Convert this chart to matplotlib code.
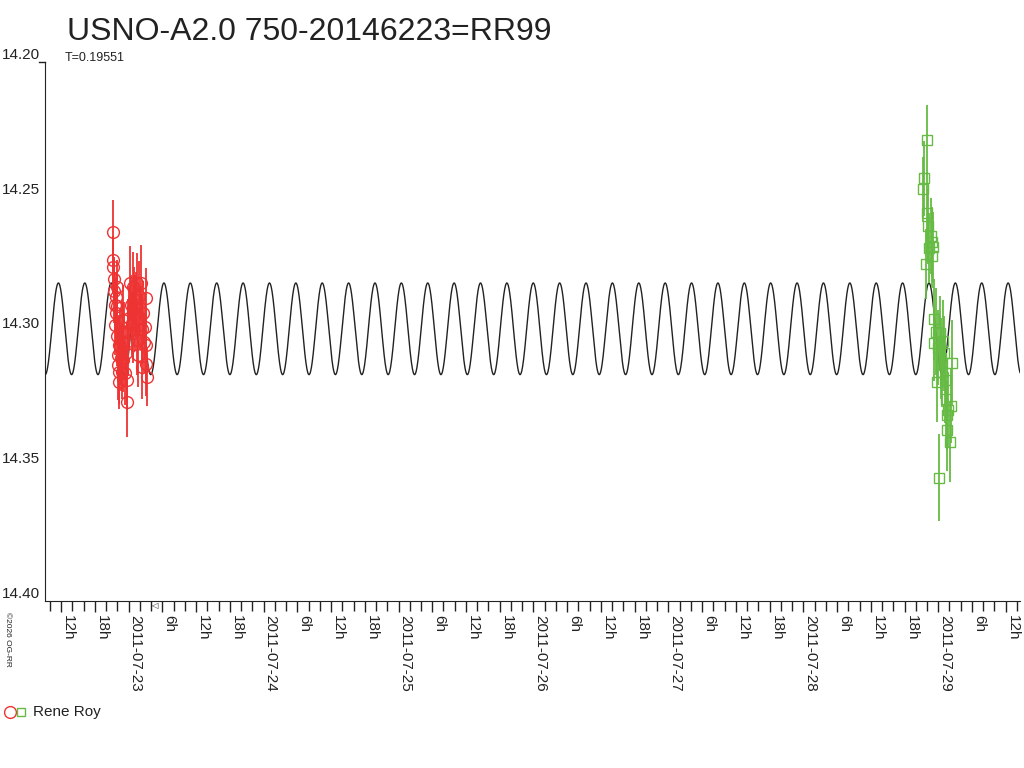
import datetime as dt
import numpy as np
import matplotlib
matplotlib.use("Agg")
import matplotlib.pyplot as plt
import matplotlib.dates as mdates
from matplotlib.lines import Line2D
from matplotlib.ticker import FuncFormatter
from matplotlib.transforms import blended_transform_factory

plt.rcParams["font.family"] = ["Liberation Sans", "DejaVu Sans"]

title = "USNO-A2.0 750-20146223=RR99"
period_label = "T=0.19551"
observer = "Rene Roy"

# days since 2011-07-23 00:00 UT, magnitude, error
red_t = [-0.119, -0.114, -0.113, -0.111, -0.107, -0.103, -0.099, -0.096, -0.093,
         -0.089, -0.086, -0.084, -0.081, -0.078, -0.074, -0.070, -0.069, -0.064,
         -0.060, -0.052, -0.048, -0.044, -0.040, -0.035, -0.027, -0.022, -0.015,
         -0.015, -0.008, -0.003, 0.004, 0.010, 0.015, 0.022, 0.030, 0.030, 0.038,
         0.047, 0.054, 0.059, 0.064, 0.071, 0.078, 0.085, 0.089, 0.096, 0.102,
         0.108, 0.113, 0.121, 0.125, 0.128, 0.131, 0.133]
red_mag = [14.2761, 14.2632, 14.2735, 14.2805, 14.2850, 14.2900, 14.2976, 14.2871,
           14.2930, 14.2834, 14.3017, 14.2905, 14.3087, 14.3124, 14.3050, 14.3149,
           14.3186, 14.3057, 14.3100, 14.3006, 14.3150, 14.3106, 14.2957, 14.3000,
           14.3154, 14.3080, 14.3260, 14.3180, 14.3000, 14.3035, 14.2950, 14.2821,
           14.2900, 14.2968, 14.2834, 14.3006, 14.2880, 14.2931, 14.2900, 14.3032,
           14.2820, 14.3087, 14.2870, 14.2950, 14.2820, 14.3131, 14.2990, 14.2931,
           14.3040, 14.2982, 14.3050, 14.2875, 14.3120, 14.3168]
red_err = [0.010, 0.012, 0.009, 0.008, 0.012, 0.010, 0.011, 0.009, 0.012, 0.010,
           0.011, 0.012, 0.010, 0.013, 0.011, 0.012, 0.010, 0.014, 0.012, 0.011,
           0.010, 0.012, 0.013, 0.011, 0.012, 0.010, 0.013, 0.011, 0.012, 0.013,
           0.012, 0.014, 0.011, 0.012, 0.013, 0.011, 0.012, 0.014, 0.012, 0.013,
           0.011, 0.012, 0.013, 0.012, 0.014, 0.012, 0.013, 0.012, 0.011, 0.012,
           0.013, 0.011, 0.012, 0.011]

green_t = [5.8845, 5.8941, 5.9067, 5.9141, 5.9200, 5.9260, 5.9334, 5.9438, 5.9512,
           5.9560, 5.9631, 5.9680, 5.9705, 5.9800, 5.9882, 5.9950, 6.0053, 6.0127,
           6.0200, 6.0250, 6.0372, 6.0420, 6.0497, 6.0560, 6.0624, 6.0680, 6.0742,
           6.0869, 6.0942, 6.0994]
green_mag = [14.2472, 14.2432, 14.2751, 14.2289, 14.2560, 14.2609, 14.2691, 14.2645,
             14.2667, 14.2720, 14.2685, 14.2955, 14.3044, 14.3000, 14.3186, 14.3060,
             14.3542, 14.3007, 14.3100, 14.3150, 14.3034, 14.3081, 14.3180, 14.3250,
             14.3366, 14.3310, 14.3291, 14.3409, 14.3275, 14.3116]
green_err = [0.012, 0.014, 0.013, 0.013, 0.015, 0.014, 0.013, 0.014, 0.013, 0.012,
             0.013, 0.015, 0.014, 0.016, 0.015, 0.014, 0.016, 0.014, 0.015, 0.013,
             0.015, 0.014, 0.016, 0.014, 0.015, 0.013, 0.014, 0.015, 0.014, 0.016]

# fitted light curve
period = 0.19551
epoch = 0.066
mean_mag = 14.299
amplitude = 0.017

x_range = (-0.620, 6.606)
y_ticks = [14.20, 14.25, 14.30, 14.35, 14.40]

red = "#ee3333"
green = "#66bb44"

base = mdates.date2num(dt.datetime(2011, 7, 23))

fig = plt.figure(figsize=(10.24, 7.68), dpi=100)
ax = fig.add_axes([45 / 1024, 1 - 601 / 768, 975 / 1024, 539 / 768])

tt = np.linspace(x_range[0], x_range[1], 4000)
model = mean_mag - amplitude * np.cos(2 * np.pi * (tt - epoch) / period)
ax.plot(base + tt, model, color="#222222", lw=1.0, zorder=3)

ax.errorbar(base + np.array(red_t), red_mag, yerr=red_err, fmt="o", ms=8.5,
            mfc="none", mec=red, mew=1.0, ecolor=red, elinewidth=1.3,
            capsize=0, zorder=4)
ax.errorbar(base + np.array(green_t), green_mag, yerr=green_err, fmt="s", ms=6.5,
            mfc="none", mec=green, mew=1.0, ecolor=green, elinewidth=1.3,
            capsize=0, zorder=4)

ax.set_xlim(base + x_range[0], base + x_range[1])
ax.set_ylim(14.40, 14.20)

for s in ("top", "right"):
    ax.spines[s].set_visible(False)
for s in ("left", "bottom"):
    ax.spines[s].set_color("#222222")

ax.xaxis.set_major_locator(mdates.HourLocator(byhour=range(0, 24, 6)))
ax.xaxis.set_minor_locator(mdates.HourLocator(byhour=range(0, 24, 2)))


def fmt_date(x, pos):
    d = mdates.num2date(x)
    if d.hour == 0:
        return d.strftime("%Y-%m-%d")
    return "%dh" % d.hour


ax.xaxis.set_major_formatter(FuncFormatter(fmt_date))
ax.tick_params(axis="x", which="major", length=8, width=1, color="#222222",
               labelsize=11, pad=2)
ax.tick_params(axis="x", which="minor", length=7, width=1, color="#222222")
for lab in ax.get_xticklabels():
    lab.set_rotation(-90)
    lab.set_ha("left")
    lab.set_va("top")
    lab.set_color("#222222")

ax.set_yticks(y_ticks)
ax.set_yticklabels([])
ax.tick_params(axis="y", length=0)
trans = blended_transform_factory(ax.transAxes, ax.transData)
for v in y_ticks:
    ax.text(-0.005, v, "%.2f" % v, transform=trans, ha="right", va="bottom",
            fontsize=11, color="#222222")
# little hook at the top of the y axis
ax.plot([-0.006, 0], [14.20, 14.20], transform=trans, color="#222222", lw=1,
        clip_on=False)

fig.text(67 / 1024, 1 - 32 / 768, title, fontsize=23, color="#222222",
         ha="left", va="center")
fig.text(65 / 1024, 1 - 58 / 768, period_label, fontsize=9, color="#222222",
         ha="left", va="center")

# small marker near the axis
fig.text(154 / 1024, 1 - 606 / 768, "\u25c1", fontsize=6, color="#222222",
         ha="center", va="center", family="DejaVu Sans")

fig.text(4 / 1024, 1 - 612 / 768, "\u00a92026 OG-RR", fontsize=6, color="#222222",
         rotation=-90, ha="left", va="top")

# legend
fig.add_artist(Line2D([10 / 1024], [1 - 712 / 768], transform=fig.transFigure,
                      marker="o", ms=8.5, mfc="none", mec=red, mew=1.0, ls="none"))
fig.add_artist(Line2D([21 / 1024], [1 - 712 / 768], transform=fig.transFigure,
                      marker="s", ms=6, mfc="none", mec=green, mew=1.0, ls="none"))
fig.text(33 / 1024, 1 - 712 / 768, observer, fontsize=11, color="#222222",
         ha="left", va="center")

fig.savefig("out.png", dpi=100)
